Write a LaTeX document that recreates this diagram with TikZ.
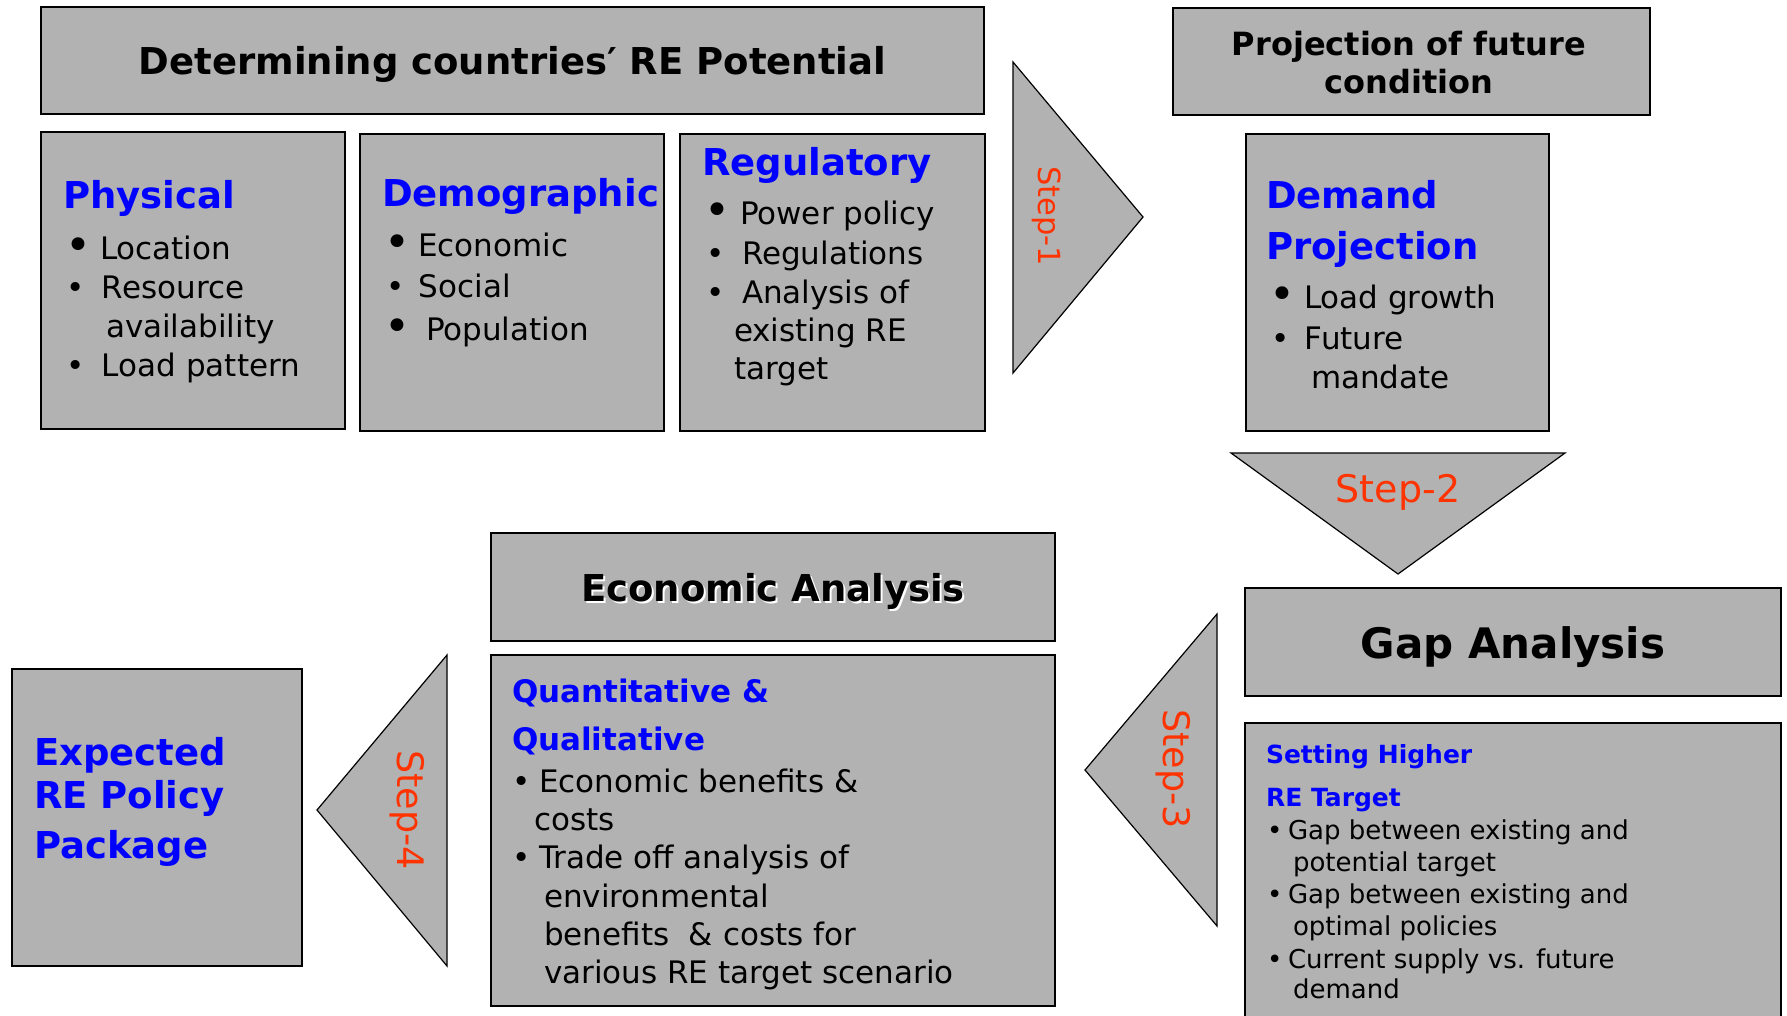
\documentclass[tikz,border=0pt]{standalone}
\usepackage{fontspec}
\setmainfont{DejaVu Sans}
\definecolor{boxgray}{RGB}{178,178,178}
\definecolor{hblue}{RGB}{0,0,255}
\definecolor{steporange}{RGB}{255,51,0}
\newcommand{\Block}[1]{\vtop{\lineskiplimit=-\maxdimen\lineskip=0pt\parskip=0pt #1}}
\newcommand{\LnH}[4]{\baselineskip=#1pt\relax\hbox{\kern#2pt\relax\fontsize{#3}{#3}\selectfont\bfseries\color{hblue}#4}}
\newcommand{\LnT}[4]{\baselineskip=#1pt\relax\hbox{\kern#2pt\relax\fontsize{#3}{#3}\selectfont #4}}
\newcommand{\LnB}[5]{\baselineskip=#1pt\relax\hbox{\kern#2pt\relax\fontsize{#4}{#4}\selectfont\rlap{•}\kern\dimexpr#3pt-#2pt\relax #5}}
\newcommand{\LnBB}[5]{\baselineskip=#1pt\relax\hbox{\kern\dimexpr#2pt-2pt\relax\fontsize{#4}{#4}\selectfont\rlap{\raisebox{-1.5pt}{\fontsize{44}{44}\selectfont •}}\kern\dimexpr#3pt-#2pt+2pt\relax #5}}
\tikzset{
  box/.style={draw=black, line width=1.6pt, fill=boxgray, anchor=north west, inner sep=0pt, outer sep=0pt},
  tri/.style={draw=black, line width=1.2pt, fill=boxgray, line join=miter},
  txt/.style={anchor=base west, inner sep=0pt, outer sep=0pt, text=black},
  ttl/.style={anchor=base, inner sep=0pt, outer sep=0pt, font=\bfseries, text=black, align=center},
  steplbl/.style={inner sep=0pt, outer sep=0pt, text=steporange, anchor=center}
}
\begin{document}
\begin{tikzpicture}[x=1pt,y=-1pt]
\clip (0,0) rectangle (1787,1015);
\fill[white] (0,0) rectangle (1787,1015);
% boxes
\node[box, minimum width=943pt, minimum height=107pt] (bTitle) at (41,7) {};
\node[box, minimum width=304pt, minimum height=297pt] (bPhys) at (41,132) {};
\node[box, minimum width=304pt, minimum height=297pt] (bDemo) at (360,134) {};
\node[box, minimum width=305pt, minimum height=297pt] (bReg) at (680,134) {};
\node[box, minimum width=477pt, minimum height=107pt] (bProj) at (1173,8) {};
\node[box, minimum width=303pt, minimum height=297pt] (bDem) at (1246,134) {};
\node[box, minimum width=536pt, minimum height=108pt] (bGap) at (1245,588) {};
\node[box, minimum width=536pt, minimum height=320pt] (bSet) at (1245,723) {};
\node[box, minimum width=564pt, minimum height=108pt] (bEcon) at (491,533) {};
\node[box, minimum width=564pt, minimum height=351pt] (bQuant) at (491,655) {};
\node[box, minimum width=290pt, minimum height=297pt] (bExp) at (12,669) {};
% step arrows
\draw[tri] (1013,62) -- (1143,217) -- (1013,373) -- cycle;
\draw[tri] (1231,453) -- (1565,453) -- (1398,574) -- cycle;
\draw[tri] (1217,614) -- (1085,770) -- (1217,926) -- cycle;
\draw[tri] (447,655) -- (317,810) -- (447,966) -- cycle;
\node[steplbl, rotate=-90, font=\fontsize{30.5}{31}\selectfont] (s1) at (1047,216) {Step-1};
\node[steplbl, anchor=base, font=\fontsize{38}{38}\selectfont] (s2) at (1398,502) {Step-2};
\node[steplbl, rotate=-90, font=\fontsize{36.5}{37}\selectfont] (s3) at (1173,769) {Step-3};
\node[steplbl, rotate=-90, font=\fontsize{36.5}{37}\selectfont] (s4) at (407,810) {Step-4};
% titles
\node[ttl, font=\bfseries\fontsize{37}{37}\selectfont] (tTitle) at (512.5,74) {Determining countries′ RE Potential};
\node[ttl, font=\bfseries\fontsize{32}{38}\selectfont] (tProj) at (1409,93) {Projection of future\\condition};
\node[ttl, font=\bfseries\fontsize{42}{42}\selectfont] (tGap) at (1513,658) {Gap Analysis};
\node[ttl, font=\bfseries\fontsize{37}{37}\selectfont] (tEcon) at (773,601) {\rlap{\kern2pt\raisebox{-2pt}{\color{white}Economic Analysis}}Economic Analysis};
% box texts
\node[txt] (xPhys) at (63,208) {\Block{%
\LnH{0}{0}{37}{Physical}%
\LnBB{51}{4}{37}{31}{Location}%
\LnB{39}{3}{39}{31}{Resource}%
\LnT{39}{43}{31}{availability}%
\LnB{39}{3}{39}{31}{Load pattern}}};
\node[txt] (xDemo) at (382,206) {\Block{%
\LnH{0}{0}{37}{Demographic}%
\LnBB{50}{4}{36}{31}{Economic}%
\LnB{41}{4}{37}{31}{Social}%
\LnBB{43}{4}{44}{31}{Population}}};
\node[txt] (xReg) at (702,175) {\Block{%
\LnH{0}{0}{37}{Regulatory}%
\LnBB{49}{4}{38}{31}{Power policy}%
\LnB{40}{4}{40}{31}{Regulations}%
\LnB{39}{4}{40}{31}{Analysis of}%
\LnT{38}{32}{31}{existing RE}%
\LnT{38}{32}{31}{target}}};
\node[txt] (xDem) at (1266,208) {\Block{%
\LnH{0}{0}{37}{Demand}%
\LnH{51}{0}{37}{Projection}%
\LnBB{49}{5}{38}{31}{Load growth}%
\LnB{41}{5}{39}{31}{Future}%
\LnT{39}{45}{31}{mandate}}};
\node[txt] (xSet) at (1266,763) {\Block{%
\LnH{0}{0}{25}{Setting Higher}%
\LnH{43}{0}{25}{RE Target}%
\LnB{33}{1}{22}{26}{Gap between existing and}%
\LnT{32}{27}{26}{potential target}%
\LnB{32}{1}{22}{26}{Gap between existing and}%
\LnT{32}{27}{26}{optimal policies}%
\LnB{33}{1}{22}{26}{Current supply vs. future}%
\LnT{30}{27}{26}{demand}}};
\node[txt] (xQuant) at (512,702) {\Block{%
\LnH{0}{0}{31}{Quantitative \&}%
\LnH{48}{0}{31}{Qualitative}%
\LnB{42}{0}{27}{31}{Economic benefits \&}%
\LnT{38}{22}{31}{costs}%
\LnB{38}{0}{27}{31}{Trade off analysis of}%
\LnT{39}{32}{31}{environmental}%
\LnT{38}{32}{31}{benefits \ \& costs for}%
\LnT{38}{32}{31}{various RE target scenario}}};
\node[txt] (xExp) at (34,765) {\Block{%
\LnH{0}{0}{37}{Expected}%
\LnH{43}{0}{37}{RE Policy}%
\LnH{50}{0}{37}{Package}}};
\end{tikzpicture}
\end{document}
